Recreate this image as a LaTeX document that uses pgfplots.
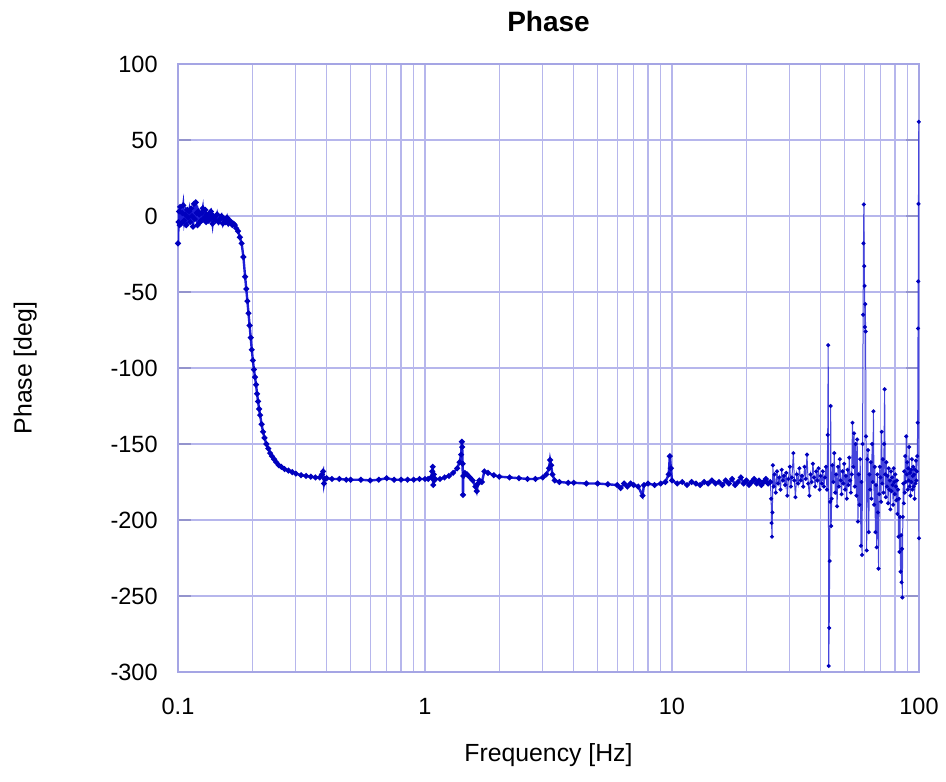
\documentclass[border=0pt]{standalone}
\usepackage{pgfplots}
\pgfplotsset{compat=1.18}
\usepackage{fontspec}
\setmainfont{Liberation Sans}
\definecolor{gridc}{RGB}{182,182,236}
\definecolor{framec}{RGB}{165,165,228}
\definecolor{linec}{RGB}{30,30,215}
\definecolor{linehf}{RGB}{70,70,220}
\definecolor{markc}{RGB}{0,0,190}
\begin{document}
\begin{tikzpicture}
\begin{axis}[
  name=ax,
  scale only axis,
  width=370.5pt, height=304pt,
  xmode=log,
  xmin=0.1, xmax=100,
  ymin=-300, ymax=100,
  xtick={0.1,1,10,100},
  xticklabels={0.1,1,10,100},
  ytick={-300,-250,...,100},
  /pgf/number format/assume math mode=true,
  xmajorgrids, xminorgrids, ymajorgrids,
  grid style={gridc, line width=0.6pt},
  minor grid style={gridc, line width=0.6pt},
  axis line style={framec, line width=0.7pt},
  xtick style={draw=none},
  minor tick style={draw=none},
  ytick style={color=framec!90!black, line width=0.8pt},
  major tick length=6.5pt,
  tick align=inside,
  ticklabel style={font=\fontsize{11.75}{14}\selectfont, text=black},
  yticklabel style={anchor=east, inner sep=0pt, xshift=-10pt},
  xticklabel style={anchor=base, inner sep=0pt, yshift=-21pt},
  title={Phase},
  every axis title/.style={font=\fontsize{14}{16}\selectfont\bfseries, at={(axis description cs:0.5,1.0531)}, anchor=base, inner sep=0pt},
  xlabel={Frequency [Hz]},
  xlabel style={font=\fontsize{12.4}{15}\selectfont, at={(axis description cs:0.5,-0.1464)}, anchor=base, inner sep=0pt},
  ylabel={Phase [deg]},
  ylabel style={font=\fontsize{12.4}{15}\selectfont, at={(axis description cs:-0.1977,0.5)}, anchor=base, inner sep=0pt},
  clip=true,
]
\addplot[color=linec, line width=1.2pt, mark=*, mark size=0.75pt, mark options={fill=markc, draw=markc}] coordinates {
(0.100,-18) (0.1005,-4) (0.101,3) (0.1015,-6) (0.102,6) (0.103,-5) (0.104,2) (0.105,7) (0.106,-3) (0.107,1)
(0.108,-6) (0.109,4) (0.110,-1) (0.111,3) (0.112,-4) (0.113,5) (0.114,0) (0.115,-7) (0.116,8) (0.117,-2)
(0.118,9) (0.119,2) (0.120,-6) (0.121,3) (0.122,1) (0.123,-4) (0.124,-3) (0.125,2) (0.126,5) (0.127,-2) (0.128,-1) (0.129,4)
(0.130,-4) (0.131,1) (0.132,0) (0.133,-3) (0.134,-2) (0.135,2) (0.136,3) (0.137,-1) (0.138,-5) (0.139,0) (0.140,-1)
(0.142,-3) (0.144,1) (0.146,-4) (0.148,-2) (0.150,0) (0.152,-5) (0.154,-2) (0.156,-4) (0.158,-1)
(0.160,-5) (0.162,-3) (0.164,-4) (0.166,-6) (0.168,-5) (0.170,-6) (0.172,-8) (0.175,-10) (0.178,-14)
(0.181,-18) (0.184,-27) (0.187,-40) (0.189,-48) (0.191,-56) (0.193,-64) (0.195,-72) (0.197,-80)
(0.199,-88) (0.201,-95) (0.203,-101) (0.205,-106) (0.207,-111) (0.209,-117) (0.211,-122) (0.213,-127)
(0.215,-131) (0.218,-137) (0.221,-142) (0.224,-146) (0.228,-150) (0.232,-153) (0.236,-156) (0.240,-158)
(0.245,-160) (0.250,-162) (0.256,-164) (0.262,-165) (0.270,-166.5) (0.280,-167.5) (0.290,-168.5)
(0.300,-169.5) (0.315,-170.5) (0.330,-171) (0.345,-171.5) (0.360,-172) (0.375,-172) (0.383,-170)
(0.387,-168) (0.390,-176) (0.393,-173) (0.400,-172.5) (0.420,-173) (0.450,-173) (0.480,-173.5)
(0.500,-173.5) (0.550,-173.5) (0.600,-174) (0.650,-173.5) (0.700,-172.5) (0.750,-173.5) (0.800,-173.5)
(0.850,-173.5) (0.900,-173.5) (0.950,-173) (1.000,-173) (1.030,-173) (1.060,-172) (1.070,-168)
(1.075,-165) (1.080,-177) (1.085,-170) (1.090,-174) (1.100,-173) (1.150,-173) (1.200,-172) (1.250,-171)
(1.300,-169) (1.350,-166) (1.380,-162) (1.400,-157) (1.410,-148.5) (1.415,-152) (1.420,-163)
(1.425,-183.5) (1.430,-171) (1.450,-169) (1.480,-170) (1.520,-172) (1.560,-174) (1.600,-178)
(1.620,-181) (1.640,-176) (1.660,-174) (1.700,-175) (1.740,-168) (1.800,-169) (1.900,-170.5)
(2.000,-171.5) (2.200,-172) (2.400,-172.5) (2.600,-173) (2.800,-173) (3.000,-172) (3.100,-170)
(3.180,-166) (3.210,-160.5) (3.240,-164) (3.280,-170) (3.350,-174) (3.500,-175) (3.800,-175.5)
(4.000,-175.5) (4.500,-176) (5.000,-176) (5.500,-176.5) (6.000,-177) (6.200,-179) (6.400,-176)
(6.600,-178) (6.800,-176) (7.000,-177) (7.300,-178) (7.600,-184) (7.700,-177) (8.000,-176) (8.500,-177)
(9.000,-176) (9.400,-175) (9.700,-170) (9.800,-158) (9.900,-166) (10.00,-174) (10.50,-176) (11.00,-175)
(11.50,-177) (12.00,-175) (12.50,-176) (13.00,-177) (13.50,-175) (14.00,-176) (14.50,-174) (15.00,-176)
(15.50,-175) (16.00,-177) (16.50,-174) (17.00,-176) (17.50,-173) (18.00,-177) (18.50,-175) (19.00,-172)
(19.50,-176) (20.00,-174) (20.50,-177) (21.00,-175) (21.50,-173) (22.00,-176) (22.50,-174) (23.00,-177)
(23.50,-175) (24.00,-173) (24.50,-176) (25.00,-175)
};
\addplot[color=linehf, line width=0.5pt, mark=*, mark size=0.75pt, mark options={fill=markc, draw=markc}] coordinates {
(25.00,-175) (25.2,-186) (25.3,-202) (25.4,-211) (25.5,-195) (25.6,-164) (25.8,-178) (26,-170) (26.3,-182)
(26.6,-168) (26.9,-176) (27.2,-172) (27.5,-180) (27.8,-167) (28.1,-174) (28.4,-171) (28.7,-177) (29.0,-169)
(29.3,-184) (29.6,-173) (30,-165) (30.3,-178) (30.6,-172) (31.0,-156) (31.3,-174) (31.6,-185) (32,-170)
(32.4,-176) (32.8,-166) (33.2,-174) (33.6,-171) (34,-178) (34.4,-165) (34.8,-173) (35.2,-157) (35.6,-176)
(36,-184) (36.4,-170) (36.8,-175) (37.2,-163) (37.6,-172) (38,-178) (38.4,-168) (38.8,-174) (39.2,-166)
(39.6,-180) (40,-171) (40.4,-176) (40.8,-168) (41.2,-178) (41.6,-172) (42,-165) (42.4,-180) (42.7,-144)
(42.9,-85) (43.1,-296) (43.3,-271) (43.5,-227) (43.7,-188) (43.9,-125) (44.1,-204) (44.3,-186) (44.6,-164)
(45,-175) (45.4,-156) (45.8,-182) (46.2,-170) (46.6,-191) (47,-165) (47.4,-178) (47.8,-160) (48.2,-174)
(48.6,-183) (49,-168) (49.4,-176) (49.8,-163) (50.2,-180) (50.6,-171) (51,-186) (51.4,-167) (51.8,-177)
(52.2,-159) (52.6,-174) (53,-182) (53.4,-170) (53.8,-136) (54.2,-165) (54.6,-143) (55,-178) (55.4,-150)
(55.8,-184) (56.2,-147) (56.6,-201) (57,-170) (57.4,-190) (57.8,-160) (58.2,-217) (58.5,-175) (58.8,-223)
(59.1,-150) (59.4,-65) (59.6,-18) (59.8,7.6) (60.0,-33) (60.2,-46) (60.4,-73) (60.6,-58) (60.8,-76)
(61.0,-145) (61.4,-220) (61.8,-160) (62.2,-154) (62.6,-208) (63,-170) (63.4,-180) (63.8,-162) (64.2,-186)
(64.6,-150) (65,-175) (65.4,-128.5) (65.8,-190) (66.2,-165) (66.6,-208) (67,-177) (67.4,-218) (67.8,-170)
(68.2,-195) (68.6,-232) (69,-183) (69.4,-165) (69.8,-172) (70.2,-188) (70.6,-142) (71,-176) (71.4,-160)
(71.8,-182) (72.2,-150) (72.6,-114) (73,-170) (73.4,-185) (73.8,-162) (74.2,-178) (74.6,-171) (75,-189)
(75.4,-166) (75.8,-180) (76.2,-174) (76.6,-193) (77,-168) (77.4,-181) (77.8,-172) (78.2,-177) (78.6,-190)
(79,-166) (79.4,-175) (79.8,-183) (80.2,-170) (80.6,-178) (81,-187) (81.4,-174) (81.8,-196) (82.2,-180)
(82.6,-211) (83,-186) (83.4,-221) (83.8,-198) (84.2,-234) (84.6,-210) (85,-241) (85.3,-219) (85.6,-251)
(86,-198) (86.4,-176) (86.8,-189) (87.2,-168) (87.6,-182) (88,-158) (88.4,-175) (88.8,-145) (89.2,-170)
(89.6,-162) (90,-180) (90.4,-166) (90.8,-174) (91.2,-152) (91.6,-178) (92,-169) (92.4,-184) (92.8,-167)
(93.2,-175) (93.6,-160) (94,-180) (94.4,-171) (94.8,-165) (95.2,-178) (95.6,-170) (96,-186) (96.4,-167)
(96.8,-176) (97.2,-161) (97.6,-174) (98,-168) (98.4,-158) (98.8,-136) (99.1,-74) (99.3,-43) (99.5,8)
(99.8,62) (100,-212)
};
\end{axis}
\path ([xshift=-89pt,yshift=-54.5pt]ax.south west) rectangle ([xshift=13.5pt,yshift=32pt]ax.north east);
\end{tikzpicture}
\end{document}
